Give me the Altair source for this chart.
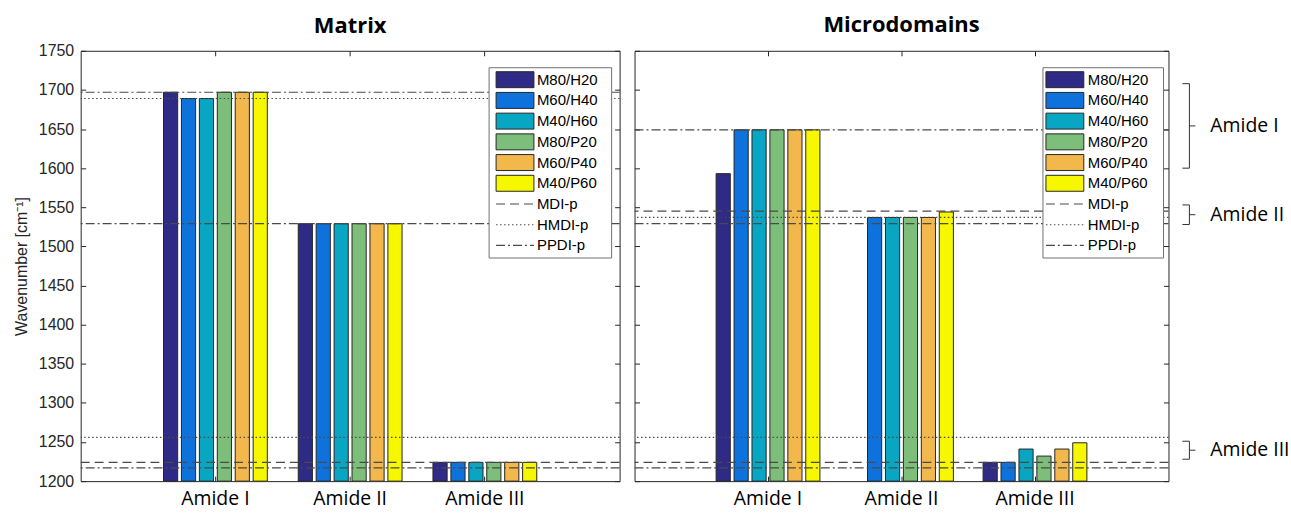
import altair as alt
import pandas as pd

# ---------------- data ----------------
groups = ["Amide I", "Amide II", "Amide III"]
series = ["M80/H20", "M60/H40", "M40/H60", "M80/P20", "M60/P40", "M40/P60"]
colors = ["#2f2a85", "#0e72dd", "#08a6c2", "#7dbf7a", "#f2b84b", "#f7f700"]
line_types = ["MDI-p", "HMDI-p", "PPDI-p"]
line_dashes = [[9, 5], [1.5, 2.5], [9, 3, 2, 3]]

matrix_amide1 = [1697, 1689, 1689, 1697, 1697, 1697]
matrix_amide2 = [1529, 1529, 1529, 1529, 1529, 1529]
matrix_amide3 = [1224, 1224, 1224, 1224, 1224, 1224]

micro_amide1 = [1593, 1649, 1649, 1649, 1649, 1649]
micro_amide2 = [None, 1537, 1537, 1537, 1537, 1544]
micro_amide3 = [1224, 1224, 1241, 1232, 1241, 1249]

matrix_ref_mdi = [1224]
matrix_ref_hmdi = [1689, 1256]
matrix_ref_ppdi = [1697, 1529, 1217]

micro_ref_mdi = [1545, 1224]
micro_ref_hmdi = [1537, 1256]
micro_ref_ppdi = [1649, 1529, 1217]

y_ticks = [1200, 1250, 1300, 1350, 1400, 1450, 1500, 1550, 1600, 1650, 1700, 1750]

brace_labels = ["Amide I", "Amide II", "Amide III"]
brace_top = [1708, 1553, 1251]
brace_bottom = [1600, 1528, 1228]

# ---------------- styling ----------------
H = 432
FRAME = "#262626"
LINE_COL = "#4a4a4a"
yscale = alt.Scale(domain=[1200, 1750], nice=False, zero=False)
color_scale = alt.Scale(domain=series, range=colors)
dash_scale = alt.Scale(domain=line_types, range=line_dashes)


def bars_frame(vals):
    rows = []
    for g, vs in zip(groups, vals):
        for s, v in zip(series, vs):
            rows.append({"group": g, "series": s, "value": v})
    return pd.DataFrame(rows)


def refs_frame(mdi, hmdi, ppdi):
    rows = []
    for name, vs in zip(line_types, [mdi, hmdi, ppdi]):
        for v in vs:
            rows.append({"line": name, "value": v})
    return pd.DataFrame(rows)


def legend_frame():
    rows = []
    for i, s in enumerate(series):
        rows.append({"label": s, "row": i, "kind": "bar"})
    for j, l in enumerate(line_types):
        rows.append({"label": l, "row": len(series) + j, "kind": "line"})
    return pd.DataFrame(rows)


def panel(title, vals, refs, W, show_labels, box_x, sw_x, lab_x, annotate, title_offset):
    step = W / 4.0
    band = 108.0
    p_in = 1 - band / step
    p_out = 0.5 + p_in / 2
    xscale = alt.Scale(domain=groups, paddingInner=p_in, paddingOuter=p_out)
    xoff_scale = alt.Scale(domain=series, paddingInner=0.21, paddingOuter=0.105)

    df = bars_frame(vals)
    rdf = refs_frame(*refs)
    ldf = legend_frame()

    if show_labels:
        left_axis = alt.Axis(orient="left", values=y_ticks, format="d", ticks=False, domain=False,
                             grid=False, labelFont="Liberation Sans", labelFontSize=16,
                             labelColor=FRAME, labelPadding=7, title="Wavenumber [cm⁻¹]",
                             titleFont="Liberation Sans", titleFontSize=16,
                             titleFontWeight="normal", titleColor=FRAME, titlePadding=9)
    else:
        left_axis = alt.Axis(orient="left", values=y_ticks, ticks=False, domain=False, grid=False,
                             labels=False, title=None)

    bottom_axis = alt.Axis(orient="bottom", ticks=False, domain=False, grid=False, labelAngle=0,
                           labelFont="Open Sans", labelFontSize=19.5, labelColor="#000",
                           labelPadding=8, title=None)

    def tick_axis(orient, off, vals_=None):
        kw = dict(orient=orient, offset=off, labels=False, ticks=True, tickSize=5,
                  tickColor=FRAME, tickWidth=1, domain=False, grid=False, title=None)
        if vals_ is not None:
            kw["values"] = vals_
        return alt.Axis(**kw)

    base_enc = dict(
        xOffset=alt.XOffset("series:N", scale=xoff_scale),
        y2=alt.datum(1200),
    )

    bars = alt.Chart(df).mark_bar(stroke=FRAME, strokeWidth=1).encode(
        x=alt.X("group:N", scale=xscale, axis=bottom_axis),
        y=alt.Y("value:Q", scale=yscale, axis=left_axis),
        color=alt.Color("series:N", scale=color_scale, legend=None),
        **base_enc,
    )
    helper1 = alt.Chart(df).mark_bar(opacity=0).encode(
        x=alt.X("group:N", scale=xscale, axis=tick_axis("top", -H)),
        y=alt.Y("value:Q", scale=yscale, axis=tick_axis("right", -W, y_ticks)),
        **base_enc,
    )
    helper2 = alt.Chart(df).mark_bar(opacity=0).encode(
        x=alt.X("group:N", scale=xscale, axis=tick_axis("bottom", -H)),
        y=alt.Y("value:Q", scale=yscale, axis=tick_axis("left", -W, y_ticks)),
        **base_enc,
    )

    rules = alt.Chart(rdf).mark_rule(color=LINE_COL, strokeWidth=1.2).encode(
        y=alt.Y("value:Q", scale=yscale, axis=None),
        strokeDash=alt.StrokeDash("line:N", scale=dash_scale, legend=None),
    )

    box = alt.Chart(pd.DataFrame({"k": [0]})).mark_rect(
        fill="white", stroke="#707070", strokeWidth=1
    ).encode(x=alt.value(box_x[0]), x2=alt.value(box_x[1]), y=alt.value(17), y2=alt.value(208))

    lscale = alt.Scale(domain=[0, 8], range=[29, 195.4], nice=False, zero=False)
    swatches = alt.Chart(ldf).transform_filter(alt.datum.kind == "bar").transform_calculate(
        top="datum.row - 0.385", bot="datum.row + 0.385"
    ).mark_rect(stroke=FRAME, strokeWidth=1).encode(
        x=alt.value(sw_x[0]), x2=alt.value(sw_x[1]),
        y=alt.Y("top:Q", scale=lscale, axis=None), y2="bot:Q",
        color=alt.Color("label:N", scale=color_scale, legend=None),
    )
    lg_lines = alt.Chart(ldf).transform_filter(alt.datum.kind == "line").mark_rule(
        color=LINE_COL, strokeWidth=1.2
    ).encode(
        x=alt.value(sw_x[0]), x2=alt.value(sw_x[1]),
        y=alt.Y("row:Q", scale=lscale, axis=None),
        strokeDash=alt.StrokeDash("label:N", scale=dash_scale, legend=None),
    )
    lg_text = alt.Chart(ldf).mark_text(
        align="left", baseline="middle", font="Liberation Sans", fontSize=15, color="#000"
    ).encode(
        x=alt.value(lab_x),
        y=alt.Y("row:Q", scale=lscale, axis=None),
        text="label:N",
    )

    layers = [bars, rules, helper1, helper2, box, swatches, lg_lines, lg_text]

    if annotate:
        bdf = pd.DataFrame({"label": brace_labels, "top": brace_top, "bottom": brace_bottom})
        bdf["mid"] = (bdf["top"] + bdf["bottom"]) / 2
        bc = dict(color="#333333", strokeWidth=1)
        vert = alt.Chart(bdf).mark_rule(**bc).encode(
            x=alt.value(W + 21), y=alt.Y("top:Q", scale=yscale, axis=None), y2="bottom:Q")
        hook_t = alt.Chart(bdf).mark_rule(**bc).encode(
            x=alt.value(W + 14), x2=alt.value(W + 21), y=alt.Y("top:Q", scale=yscale, axis=None))
        hook_b = alt.Chart(bdf).mark_rule(**bc).encode(
            x=alt.value(W + 14), x2=alt.value(W + 21), y=alt.Y("bottom:Q", scale=yscale, axis=None))
        nub = alt.Chart(bdf).mark_rule(**bc).encode(
            x=alt.value(W + 21), x2=alt.value(W + 27), y=alt.Y("mid:Q", scale=yscale, axis=None))
        btxt = alt.Chart(bdf).mark_text(
            align="left", baseline="middle", font="Open Sans", fontSize=19.5, color="#000"
        ).encode(x=alt.value(W + 42), y=alt.Y("mid:Q", scale=yscale, axis=None), text="label:N")
        layers += [vert, hook_t, hook_b, nub, btxt]

    return alt.layer(*layers).resolve_scale(y="independent").resolve_axis(
        x="independent", y="independent"
    ).properties(
        width=W, height=H,
        title=alt.Title(title, font="Open Sans", fontSize=22, fontWeight="bold", color="#000",
                        offset=title_offset, frame="group", anchor="middle"),
    )


left = panel("Matrix", [matrix_amide1, matrix_amide2, matrix_amide3],
             (matrix_ref_mdi, matrix_ref_hmdi, matrix_ref_ppdi), 541, True,
             (410, 533), (417, 455), 458, False, 5)
right = panel("Microdomains", [micro_amide1, micro_amide2, micro_amide3],
              (micro_ref_mdi, micro_ref_hmdi, micro_ref_ppdi), 536, False,
              (410, 531), (413, 451), 455, True, 13)

chart = alt.hconcat(left, right, spacing=11).properties(
    padding={"left": 12, "top": 13, "right": 0, "bottom": 4},
    background="white",
).configure_view(stroke=FRAME, strokeWidth=1)

chart.save("out.html", embed_options={"renderer": "svg", "actions": False})
